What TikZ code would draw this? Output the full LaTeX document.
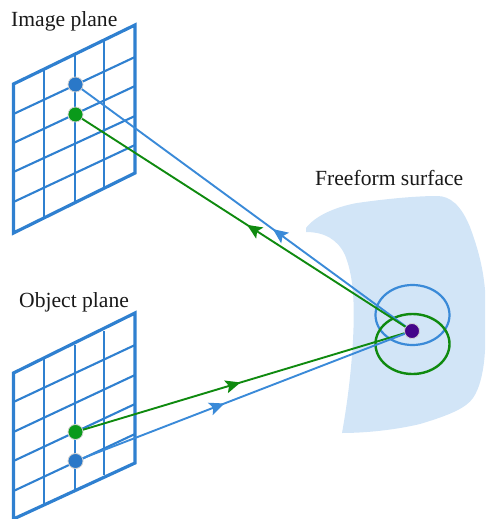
\documentclass[tikz,border=0pt]{standalone}
\usepackage{fontspec}
\setmainfont{Liberation Serif}
\usetikzlibrary{arrows.meta,decorations.markings,calc}
\definecolor{gridblue}{HTML}{2F80D0}
\definecolor{rayblue}{HTML}{3A8AD8}
\definecolor{raygreen}{HTML}{0F8A0F}
\definecolor{dotblue}{HTML}{2A78C8}
\definecolor{dotgreen}{HTML}{0A9A1A}
\definecolor{dotpurple}{HTML}{45058A}
\definecolor{surf}{HTML}{D2E5F7}
\tikzset{
  x=1pt,y=-1pt,
  lab/.style={font=\fontsize{21.6}{24}\selectfont,inner sep=0pt,text=black!90},
  frameline/.style={draw=gridblue,line width=3.2pt,line join=miter},
  gridline/.style={draw=gridblue,line width=2.1pt},
  dot/.style={circle,inner sep=0pt,minimum size=#1,draw=gray!35,line width=0.8pt},
  ray/.style={line width=1.9pt},
  midarrow/.style n args={2}{postaction={decorate},decoration={markings,mark=at position #1 with {\arrow{Stealth[length=15pt,width=13pt,inset=3pt,fill=#2,#2]}}}},
}
\begin{document}
\begin{tikzpicture}
\useasboundingbox (0,0) rectangle (485,519);
% surface
\fill[surf] (306,228) .. controls (315,216) and (335,207) .. (357,203)
  .. controls (385,199) and (415,196) .. (437,196)
  .. controls (450,196) and (461,205) .. (470,227)
  .. controls (476,243) and (483,265) .. (485,290)
  -- (485,350) .. controls (484,370) and (480,388) .. (473,398)
  .. controls (466,408) and (450,415) .. (420,424)
  .. controls (395,430) and (365,433) .. (342,433)
  .. controls (347,405) and (351,375) .. (353,340)
  .. controls (355,300) and (353,275) .. (345,255)
  .. controls (338,240) and (325,232) .. (306,232) -- cycle;
% image plane
\foreach \xa/\ya/\yb in {44/69/218, 75/54/203, 104/40/188}
  \draw[gridline] (\xa,\ya) -- (\xa,\yb);
\foreach \ya/\yb in {114/57, 143/86, 172/116, 202/145}
  \draw[gridline] (13.5,\ya) -- (135,\yb);
\draw[frameline] (13.5,84) -- (135,25) -- (135,173) -- (13.5,233) -- cycle;
% object plane
\foreach \xa/\ya/\yb in {44/358/505, 75/345/490, 104/331/475}
  \draw[gridline] (\xa,\ya) -- (\xa,\yb);
\foreach \ya/\yb in {402/345, 432/375, 461/404, 491/434}
  \draw[gridline] (13.5,\ya) -- (135,\yb);
\draw[frameline] (13.5,519) -- (13.5,373) -- (135,313) -- (135,463) -- (13.5,519);
% rings
\draw[rayblue,line width=2.2pt] (412.5,315) ellipse [x radius=37,y radius=30];
\draw[raygreen,line width=2.4pt] (412.5,344) ellipse [x radius=37,y radius=30];
% dots
\coordinate (c) at (412,331);
\node[dot=15pt,fill=dotblue] (ib) at (75.5,84.5) {};
\node[dot=15pt,fill=dotgreen] (ig) at (75.5,114.5) {};
\node[dot=15pt,fill=dotgreen] (og) at (75.5,432) {};
\node[dot=15pt,fill=dotblue] (ob) at (75.5,461) {};
\node[dot=15pt,fill=dotpurple] (p) at (c) {};
% rays
\draw[ray,rayblue,midarrow={0.41}{rayblue}] (p) -- (ib);
\draw[ray,raygreen,midarrow={0.49}{raygreen}] (p) -- (ig);
\draw[ray,raygreen,midarrow={0.49}{raygreen}] (og) -- (p);
\draw[ray,rayblue,midarrow={0.44}{rayblue}] (ob) -- (p);
% labels
\node[lab,anchor=west] (t1) at (11,21) {Image plane};
\node[lab,anchor=west] (t2) at (19,302) {Object plane};
\node[lab,anchor=west] (t3) at (315,177.5) {Freeform surface};
\end{tikzpicture}
\end{document}
